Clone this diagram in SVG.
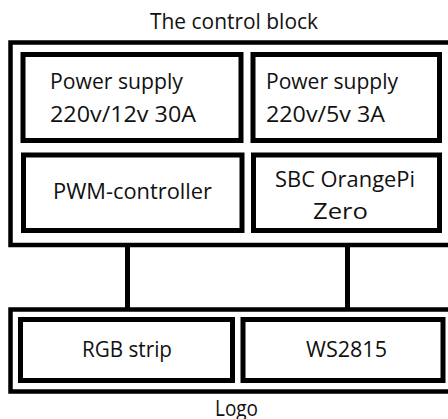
<svg xmlns="http://www.w3.org/2000/svg" width="448" height="419" viewBox="0 0 448 419">
<style>
.box{fill:#fff;stroke:#000;stroke-width:5}
.outer{fill:#fff;stroke:#000;stroke-width:4.5}
.t{font-family:"Open Sans","Noto Sans","Liberation Sans",sans-serif;font-size:21px;fill:#111}
.c{stroke:#000;stroke-width:5;fill:none}
</style>
<rect width="448" height="419" fill="#fff"/>
<text class="t" x="150" y="29" textLength="168" lengthAdjust="spacingAndGlyphs">The control block</text>
<g id="control-block">
<rect class="outer" x="10.5" y="42.5" width="460" height="202.5"/>
</g>
<g id="logo-block">
<rect class="outer" x="10.5" y="309.5" width="460" height="82"/>
</g>
<g id="connectors">
<line class="c" x1="127.5" y1="247" x2="127.5" y2="308"/>
<line class="c" x1="347.5" y1="247" x2="347.5" y2="308"/>
</g>
<g id="ps12">
<rect class="box" x="23" y="54.5" width="218" height="86"/>
<text class="t" x="50" y="89" textLength="133" lengthAdjust="spacingAndGlyphs">Power supply</text>
<text class="t" x="50" y="122" textLength="146" lengthAdjust="spacingAndGlyphs">220v/12v 30A</text>
</g>
<g id="ps5">
<rect class="box" x="253" y="54.5" width="186.5" height="86"/>
<text class="t" x="266" y="89" textLength="132" lengthAdjust="spacingAndGlyphs">Power supply</text>
<text class="t" x="266" y="122" textLength="119" lengthAdjust="spacingAndGlyphs">220v/5v 3A</text>
</g>
<g id="pwm">
<rect class="box" x="23.5" y="155" width="218.5" height="75.5"/>
<text class="t" x="53" y="199" textLength="159" lengthAdjust="spacingAndGlyphs">PWM-controller</text>
</g>
<g id="sbc">
<rect class="box" x="253.5" y="155" width="186" height="75.5"/>
<text class="t" x="275" y="187" textLength="140" lengthAdjust="spacingAndGlyphs">SBC OrangePi</text>
<text class="t" x="313" y="219" textLength="55" lengthAdjust="spacingAndGlyphs">Zero</text>
</g>
<g id="rgb">
<rect class="box" x="20.5" y="319.5" width="212" height="61"/>
<text class="t" x="82" y="357" textLength="90" lengthAdjust="spacingAndGlyphs">RGB strip</text>
</g>
<g id="ws2815">
<rect class="box" x="243" y="319.5" width="200" height="61"/>
<text class="t" x="306" y="357" textLength="81" lengthAdjust="spacingAndGlyphs">WS2815</text>
</g>
<text class="t" x="215" y="416" textLength="43" lengthAdjust="spacingAndGlyphs">Logo</text>
</svg>
